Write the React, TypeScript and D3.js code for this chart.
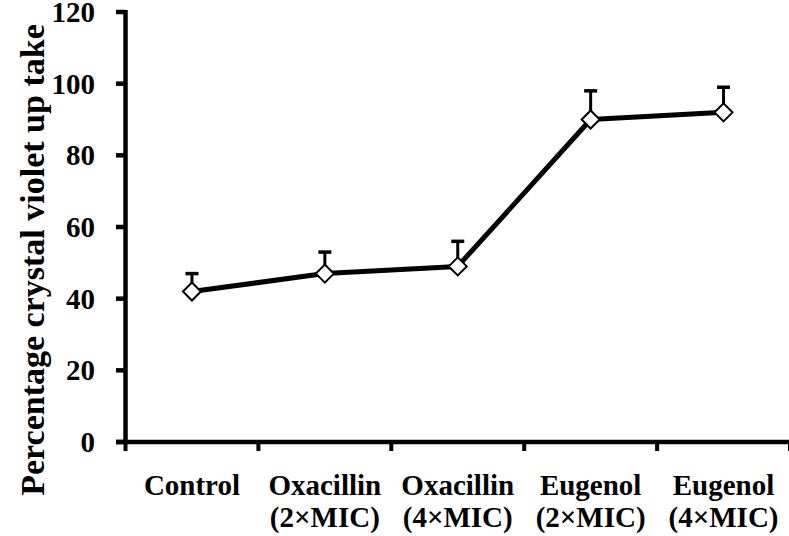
import React from "react";
import * as d3 from "d3";

const categories = ["Control", "Oxacillin (2×MIC)", "Oxacillin (4×MIC)", "Eugenol (2×MIC)", "Eugenol (4×MIC)"];
const labelLine1 = ["Control", "Oxacillin", "Oxacillin", "Eugenol", "Eugenol"];
const labelLine2 = ["", "(2×MIC)", "(4×MIC)", "(2×MIC)", "(4×MIC)"];
const values = [42, 47, 49, 90, 92];
const errors = [5, 6, 7, 8, 7];
const yTicks = [0, 20, 40, 60, 80, 100, 120];

const W = 789;
const H = 536;
const textStyle: React.CSSProperties = {
  fontFamily: '"Liberation Serif", "Times New Roman", Times, serif',
  fontWeight: 700,
};

export default function App() {
  const x = d3.scaleBand<string>().domain(categories).range([125.5, 790]).padding(0);
  const y = d3.scaleLinear().domain([0, 120]).range([442, 12]);
  const cx = (c: string) => (x(c) as number) + x.bandwidth() / 2;

  const line = d3
    .line<number>()
    .x((_, i) => cx(categories[i]))
    .y((v) => y(v));

  const boundaries = categories.map((c) => x(c) as number).concat([(x(categories[4]) as number) + x.bandwidth()]);
  const r = 9;

  return (
    <svg width={W} height={H} style={{ position: "absolute", left: 0, top: 0, background: "#fff" }}>
      {/* Y axis */}
      <line x1={125.5} x2={125.5} y1={10} y2={444} stroke="#000" strokeWidth={4.5} />
      {yTicks.map((t) => (
        <g key={t}>
          <line x1={116} x2={125.5} y1={y(t)} y2={y(t)} stroke="#000" strokeWidth={4.5} />
          <text x={95} y={y(t) + 10} textAnchor="end" style={{ ...textStyle, fontSize: 29 }}>
            {t}
          </text>
        </g>
      ))}
      {/* X axis */}
      <line x1={116} x2={789} y1={442} y2={442} stroke="#000" strokeWidth={4.5} />
      {boundaries.map((b, i) => (
        <line key={i} x1={b} x2={b} y1={442} y2={451} stroke="#000" strokeWidth={4} />
      ))}
      {categories.map((c, i) => (
        <text key={c} x={cx(c)} textAnchor="middle" style={{ ...textStyle, fontSize: 29 }}>
          <tspan x={cx(c)} y={495}>
            {labelLine1[i]}
          </tspan>
          {labelLine2[i] && (
            <tspan x={cx(c)} y={527}>
              {labelLine2[i]}
            </tspan>
          )}
        </text>
      ))}
      {/* Axis title */}
      <text
        transform={`translate(44, 260) rotate(-90)`}
        textAnchor="middle"
        style={{ ...textStyle, fontSize: 34 }}
      >
        Percentage crystal violet up take
      </text>
      {/* Error bars */}
      {categories.map((c, i) => (
        <g key={"e" + c}>
          <line x1={cx(c)} x2={cx(c)} y1={y(values[i])} y2={y(values[i] + errors[i])} stroke="#000" strokeWidth={3} />
          <line
            x1={cx(c) - 6.5}
            x2={cx(c) + 6.5}
            y1={y(values[i] + errors[i])}
            y2={y(values[i] + errors[i])}
            stroke="#000"
            strokeWidth={3.5}
          />
        </g>
      ))}
      {/* Line */}
      <path d={line(values) as string} fill="none" stroke="#000" strokeWidth={5} strokeLinejoin="round" />
      {/* Markers */}
      {categories.map((c, i) => {
        const px = cx(c);
        const py = y(values[i]);
        return (
          <path
            key={"m" + c}
            d={`M${px},${py - r}L${px + r},${py}L${px},${py + r}L${px - r},${py}Z`}
            fill="#fff"
            stroke="#000"
            strokeWidth={2}
          />
        );
      })}
    </svg>
  );
}
